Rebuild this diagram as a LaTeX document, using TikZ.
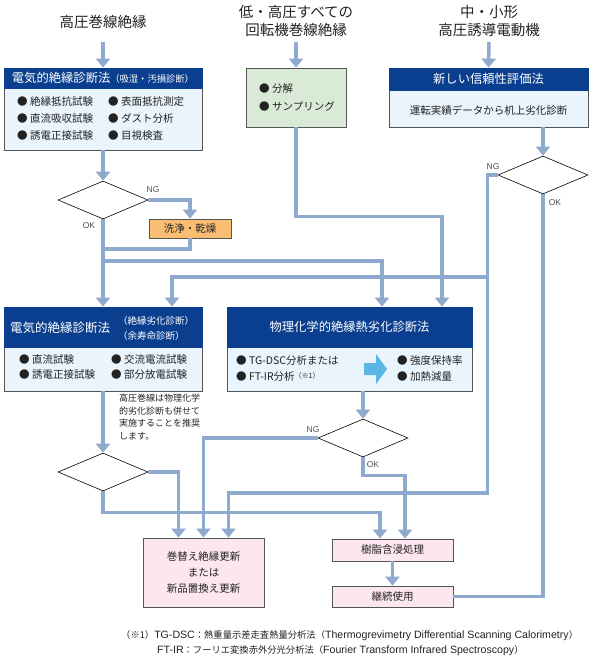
\documentclass[tikz,border=0pt]{standalone}
\usepackage{fontspec}
\setmainfont{Noto Sans CJK JP}
\newfontfamily\latfont{Liberation Sans}
\usetikzlibrary{arrows.meta,shapes.geometric}
\definecolor{lineblue}{HTML}{8FAACF}
\definecolor{headblue}{HTML}{0A3F8F}
\definecolor{bodyblue}{HTML}{E9F4FC}
\definecolor{boxgreen}{HTML}{D9EBD6}
\definecolor{boxorange}{HTML}{F9BE72}
\definecolor{boxpink}{HTML}{FCE6F0}
\definecolor{boxborder}{HTML}{555555}
\definecolor{cyanarrow}{HTML}{5BB6E5}
\definecolor{txt}{HTML}{222222}
\newcommand{\footlat}[1]{{\latfont\fontsize{10.6}{11}\selectfont #1}}
\tikzset{
  flow/.style={draw=lineblue, line width=3.5pt, -{Triangle[width=14pt,length=9pt]}},
  flowline/.style={draw=lineblue, line width=3.5pt},
  bodybox/.style={draw=boxborder, line width=0.8pt, fill=bodyblue, inner sep=0pt},
  headbox/.style={fill=headblue, draw=headblue, line width=0.8pt, inner sep=0pt, text=white, font=\fontsize{12.3}{14}\selectfont},
  greenbox/.style={draw=boxborder, line width=0.8pt, fill=boxgreen, inner sep=0pt},
  orangebox/.style={draw=boxborder, line width=0.8pt, fill=boxorange, inner sep=0pt, text=txt, font=\fontsize{10.5}{12}\selectfont},
  pinkbox/.style={draw=boxborder, line width=0.8pt, fill=boxpink, inner sep=0pt, text=txt, align=center, font=\fontsize{10.5}{16}\selectfont},
  dia/.style={diamond, draw=black, line width=0.6pt, fill=white, inner sep=0pt, minimum width=90pt, minimum height=38pt},
  item/.style={anchor=west, inner sep=0pt, text=txt, font=\fontsize{10.5}{12}\selectfont},
  titletxt/.style={inner sep=0pt, align=center, text=txt, font=\fontsize{14.5}{18}\selectfont},
  lab/.style={inner sep=0pt, text=txt!80, font=\latfont\fontsize{8.5}{10}\selectfont},
  notetxt/.style={inner sep=0pt, align=left, text=txt, font=\fontsize{9}{12.5}\selectfont},
  foot/.style={inner sep=0pt, text=txt, font=\fontsize{9.3}{11}\selectfont},
}
\begin{document}
\begin{tikzpicture}[x=1pt,y=-1pt]
\useasboundingbox (0,0) rectangle (595,661);

% titles
\node[titletxt] (t1) at (103,22) {高圧巻線絶縁};
\node[titletxt] (t2) at (296,21) {低・高圧すべての\\回転機巻線絶縁};
\node[titletxt] (t3) at (489,21) {中・小形\\高圧誘導電動機};
\coordinate (t1s) at (103,42);
\coordinate (t2s) at (296,42);
\coordinate (t3s) at (489,42);

% box 1
\node[bodybox, minimum width=198pt, minimum height=82pt] (box1) at (103,109) {};
\node[headbox, minimum width=198pt, minimum height=20pt, anchor=north] (h1) at (box1.north) {電気的絶縁診断法{\fontsize{9.3}{10}\selectfont（吸湿・汚損診断）}};
\node[item] (b1a) at (17,102) {● 絶縁抵抗試験};
\node[item] (b1b) at (17,119) {● 直流吸収試験};
\node[item] (b1c) at (17,136) {● 誘電正接試験};
\node[item] (b1d) at (108,102) {● 表面抵抗測定};
\node[item] (b1e) at (108,119) {● ダスト分析};
\node[item] (b1f) at (108,136) {● 目視検査};

% box 2
\node[greenbox, minimum width=100pt, minimum height=59pt] (box2) at (296,97.5) {};
\node[item] (b2a) at (259,89) {● 分解};
\node[item] (b2b) at (259,106) {● サンプリング};

% box 3
\node[bodybox, minimum width=199pt, minimum height=59pt] (box3) at (488.5,97.5) {};
\node[headbox, minimum width=199pt, minimum height=22pt, anchor=north] (h3) at (box3.north) {新しい信頼性評価法};
\node[item, anchor=center] (b3a) at (488.5,110) {運転実績データから机上劣化診断};

% diamonds
\node[dia] (d1) at (103,200) {};
\node[dia] (d3) at (543,175) {};
\node[dia] (d2) at (103,472) {};
\node[dia] (d4) at (363,438) {};

% wash box
\node[orangebox, minimum width=82pt, minimum height=19pt] (wash) at (190,228.5) {洗浄・乾燥};

% box 4
\node[bodybox, minimum width=198pt, minimum height=84pt] (box4) at (103,349) {};
\node[headbox, minimum width=198pt, minimum height=40pt, anchor=north] (h4) at (box4.north) {};
\node[inner sep=0pt, anchor=west, text=white, font=\fontsize{12.5}{14}\selectfont] (h4a) at (10,328) {電気的絶縁診断法};
\node[inner sep=0pt, anchor=west, text=white, font=\fontsize{9.5}{15}\selectfont, align=left] (h4b) at (118,328.5) {（絶縁劣化診断）\\（余寿命診断）};
\node[item] (b4a) at (19,360) {● 直流試験};
\node[item] (b4b) at (19,375) {● 誘電正接試験};
\node[item] (b4c) at (111,360) {● 交流電流試験};
\node[item] (b4d) at (111,375) {● 部分放電試験};

% box 5
\node[bodybox, minimum width=245pt, minimum height=84pt] (box5) at (349.5,349) {};
\node[headbox, minimum width=245pt, minimum height=40pt, anchor=north] (h5) at (box5.north) {物理化学的絶縁熱劣化診断法};
\node[item] (b5a) at (236,361) {● TG-DSC分析または};
\node[item] (b5b) at (236,377) {● FT-IR分析{\fontsize{7}{8}\selectfont\raisebox{2pt}{（※1）}}};
\node[item] (b5c) at (397,361) {● 強度保持率};
\node[item] (b5d) at (397,377) {● 加熱減量};
\fill[cyanarrow] (364,363) -- (376,363) -- (376,354) -- (387,369) -- (376,384) -- (376,375) -- (364,375) -- cycle;

% note
\node[notetxt, anchor=north west] (note) at (119,394) {高圧巻線は物理化学\\的劣化診断も併せて\\実施することを推奨\\します。};

% bottom boxes
\node[pinkbox, minimum width=121pt, minimum height=69pt] (box7) at (203.5,572.5) {巻替え絶縁更新\\または\\新品置換え更新};
\node[pinkbox, minimum width=121pt, minimum height=22pt] (box8) at (392.5,550) {樹脂含浸処理};
\node[pinkbox, minimum width=121pt, minimum height=21pt] (cont) at (392.5,596.5) {継続使用};

% labels
\node[lab] (l1) at (153,190) {NG};
\node[lab] (l2) at (89,226) {OK};
\node[lab] (l3) at (493,167) {NG};
\node[lab] (l4) at (555,203) {OK};
\node[lab] (l5) at (313,430) {NG};
\node[lab] (l6) at (373,465) {OK};

% junctions
\coordinate (j1) at (103,249);
\coordinate (j2) at (103,261);
\coordinate (j3) at (488,277);

% connectors
\draw[flow] (t1s) -- (box1.north);
\draw[flow] (t2s) -- (box2.north);
\draw[flow] (t3s) -- (box3.north);
\draw[flow] (box1.south) -- (d1.north);
\draw[flow] (d1.east) -| (wash.north);
\draw[flow] (d1.south) -- (box4.north);
\draw[flowline] (wash.south) |- (j1);
\draw[flow] (j2) -| ([xshift=32.5pt]box5.north);
\draw[flow] (box2.south) -- ++(0,89) -| ([xshift=92.5pt]box5.north);
\draw[flow] (d3.north |- box3.south) -- (d3.north);
\draw[flow] (d3.west) -- ++(-10,0) -- ++(0,318) -| ([xshift=25pt]box7.north);
\draw[flow] (j3) -| ([xshift=69pt]box4.north);
\draw[flowline] (d3.south) |- (cont.east);
\draw[flow] (box4.south) -- (d2.north);
\draw[flow] (d2.east) -| ([xshift=-25pt]box7.north);
\draw[flow] (d2.south) -- ++(0,21) -| ([xshift=-12.5pt]box8.north);
\draw[flow] (d4.north |- box5.south) -- (d4.north);
\draw[flow] (d4.west) -| (box7.north);
\draw[flow] (d4.south) -- ++(0,18) -| ([xshift=12.5pt]box8.north);
\draw[flow] (box8.south) -- (cont.north);

% footnote
\node[foot, anchor=west] (f1) at (121,636) {（※1）\footlat{TG-DSC}：熱重量示差走査熱量分析法（\footlat{Thermogrevimetry Differential Scanning Calorimetry}）};
\node[foot, anchor=west] (f2) at (157,651) {\footlat{FT-IR}：フーリエ変換赤外分光分析法（\footlat{Fourier Transform Infrared Spectroscopy}）};
\end{tikzpicture}
\end{document}
